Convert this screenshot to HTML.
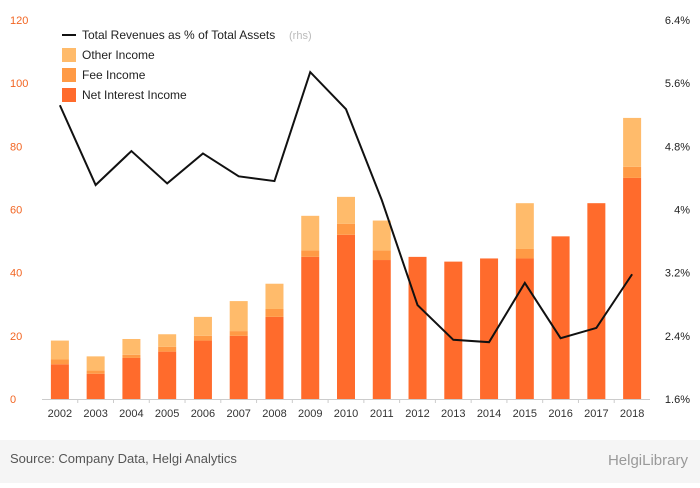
<!DOCTYPE html>
<html><head><meta charset="utf-8"><style>
body{margin:0;background:#fff;font-family:"Liberation Sans",sans-serif}
svg text{font-family:"Liberation Sans",sans-serif}
</style></head><body>
<svg id="c" width="700" height="483" xmlns="http://www.w3.org/2000/svg">
<rect width="700" height="483" fill="#fff"/>
<rect x="0" y="440" width="700" height="43" fill="#f5f5f5"/>
<text x="10" y="463" font-size="13" fill="#555">Source: Company Data, Helgi Analytics</text>
<text x="688" y="465" font-size="15" fill="#999" text-anchor="end">HelgiLibrary</text>
<g id="g"></g>
</svg>
<script>
const years=["2002","2003","2004","2005","2006","2007","2008","2009","2010","2011","2012","2013","2014","2015","2016","2017","2018"];
const netInterest=[11,8,13,15,18.5,20,26,45,52,44,45,43.5,44.5,44.5,51.5,62,70];
const feeIncome=[1.5,1,1,1.5,1.5,1.5,2.5,2,3.5,3,0,0,0,3,0,0,3.5];
const otherIncome=[6,4.5,5,4,6,9.5,8,11,8.5,9.5,0,0,0,14.5,0,0,15.5];
const revPct=[5.32,4.31,4.74,4.33,4.71,4.42,4.36,5.74,5.27,4.12,2.79,2.35,2.32,3.07,2.37,2.50,3.18];
const leftTicks=[0,20,40,60,80,100,120];
const rightTicks=[1.6,2.4,3.2,4,4.8,5.6,6.4];
const rightLabels=["1.6%","2.4%","3.2%","4%","4.8%","5.6%","6.4%"];
const NS="http://www.w3.org/2000/svg",g=document.getElementById('g');
const x0=42,x1=650,yb=399,yt=20;
const xs=i=>x0+(i+0.5)*(x1-x0)/years.length;
const yl=v=>yb-(v/120)*(yb-yt);
const yr=v=>yb-((v-1.6)/4.8)*(yb-yt);
function el(t,a,txt){const e=document.createElementNS(NS,t);for(const k in a)e.setAttribute(k,a[k]);if(txt!==undefined)e.textContent=txt;g.appendChild(e);return e;}
leftTicks.forEach(v=>{
 const t=el('text',{x:10,y:yl(v)+4,'font-size':11,fill:'#f26522'},v);
 
 
});
rightTicks.forEach((v,i)=>{
 const t=el('text',{x:690,y:yr(v)+4,'font-size':11,fill:'#222','text-anchor':'end'},rightLabels[i]);
 
 
});
const ax=el('line',{x1:x0,x2:x1,y1:yb+0.5,y2:yb+0.5,stroke:'#ccc'});


years.forEach((y,i)=>{
 const cx=xs(i),w=18;
 const a=el('rect',{x:cx-w/2,y:yl(netInterest[i]),width:w,height:yb-yl(netInterest[i]),fill:'#ff6b2c'});
 
 
 const f=el('rect',{x:cx-w/2,y:yl(netInterest[i]+feeIncome[i]),width:w,height:yl(netInterest[i])-yl(netInterest[i]+feeIncome[i]),fill:'#ff9a45'});
 
 
 const tot=netInterest[i]+feeIncome[i]+otherIncome[i];
 const o=el('rect',{x:cx-w/2,y:yl(tot),width:w,height:yl(netInterest[i]+feeIncome[i])-yl(tot),fill:'#ffbb6b'});
 
 
 const tl=el('text',{x:cx,y:417,'font-size':11,fill:'#333','text-anchor':'middle'},y);
 
 
 if(i>0){const s=el('line',{x1:cx-17.9,x2:cx-17.9,y1:yb,y2:yb+4,stroke:'#ccc'});
 
 }
});
const pl=el('polyline',{points:revPct.map((v,i)=>xs(i)+','+yr(v)).join(' '),fill:'none',stroke:'#111','stroke-width':2});


const lg=[["line","Total Revenues as % of Total Assets",null],["rect","Other Income","#ffbb6b"],["rect","Fee Income","#ff9a45"],["rect","Net Interest Income","#ff6b2c"]];
lg.forEach((d,i)=>{
 const y=35+i*20;
 if(d[0]==='line'){const l=el('line',{x1:62,x2:76,y1:y,y2:y,stroke:'#111','stroke-width':2});}
 else{const r=el('rect',{x:62,y:y-7,width:14,height:14,fill:d[2]});}
 const t=el('text',{x:82,y:y+4,'font-size':12,fill:'#222'},d[1]);
 
 
 if(i===0){const r=el('text',{x:289,y:y+4,'font-size':11,fill:'#bbb'},'(rhs)');}
});
</script>
</body></html>
